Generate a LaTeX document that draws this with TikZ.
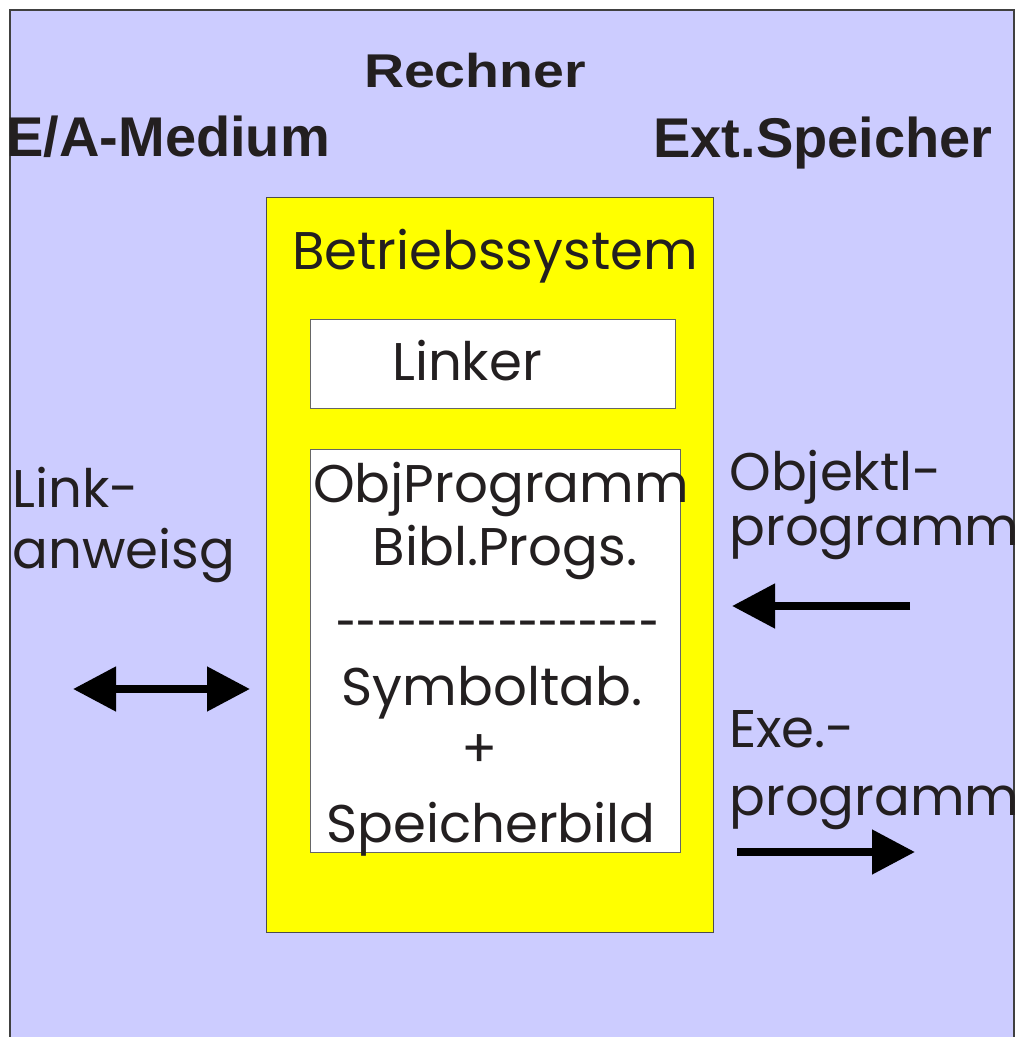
\documentclass[tikz,border=0pt]{standalone}
\usepackage{graphicx}
\usepackage{fontspec}
\setmainfont{Poppins}
\newfontfamily\headfont{Liberation Sans}
\newfontfamily\wideheadfont[FakeStretch=1.17]{Liberation Sans}
\usetikzlibrary{positioning,arrows.meta}
\definecolor{lavender}{HTML}{CCCCFF}
\definecolor{osyellow}{RGB}{255,255,0}
\definecolor{ink}{HTML}{231F20}
\newcommand\hy{\mbox{-}}
\newcommand\dashrow{\scalebox{0.69}[1]{\hy\hy\hy\hy\hy\hy\hy\hy\hy\hy\hy\hy\hy\hy\hy\hy}}

\begin{document}
\begin{tikzpicture}[x=0.5pt, y=-0.5pt, >={Triangle[length=21.5pt,width=21.5pt]},
    every node/.style={inner sep=0pt, text=ink},
    head/.style={font=\headfont\bfseries\fontsize{28}{28}\selectfont},
    body/.style={font=\fontsize{26.5}{27}\selectfont},
    panel/.style={draw=black!70, line width=0.6pt, anchor=north west},
    flow/.style={line width=4pt}]
    \useasboundingbox (0,0) rectangle (1018,1037);
    % background
    \fill[lavender] (10,10) rectangle (1014,1045);
    \draw[black!75, line width=1pt] (10,1045) -- (10,10) -- (1014,10) -- (1014,1045);
    % headings
    \node[font=\wideheadfont\bfseries\fontsize{23.7}{24}\selectfont, anchor=base] (rech) at (475,88) {Rechner};
    \node[head, anchor=base west] (ea) at (6,157) {E/A-Medium};
    \node[head, anchor=base east] (ext) at (993,158) {Ext.Speicher};
    % operating system
    \node[panel, fill=osyellow, minimum width=223.5pt, minimum height=367.5pt] (os) at (266,197) {};
    \node[body, anchor=base] (bs) at (495,270) {Betriebssystem};
    \node[panel, fill=white, draw=black!60, minimum width=182.5pt, minimum height=44.5pt] (lbox) at (310,319) {};
    \node[body, anchor=base] (lnk) at (467,380) {Linker};
    \node[panel, fill=white, draw=black!60, minimum width=185pt, minimum height=201.5pt] (mem) at (310,449) {};
    \node[body, anchor=base] (obj) at (501,502) {ObjProgramm};
    \node[body, anchor=base] (bib) at (505,565) {Bibl.Progs.};
    \node[body, anchor=base] (sep) at (498,642) {\dashrow};
    \node[body, anchor=base] (sym) at (492,705) {Symboltab.};
    \node[body, anchor=base] (plus) at (480,767) {+};
    \node[body, anchor=base] (img) at (491,842) {Speicherbild};
    % side labels
    \node[body, anchor=base west] (la1) at (12,507) {Link-};
    \node[body, anchor=base west] (la2) at (12,568) {anweisg};
    \node[body, anchor=base west] (ob1) at (729,490) {Objektl-};
    \node[body, anchor=base west] (ob2) at (729,545) {programm};
    \node[body, anchor=base west] (ex1) at (729,747) {Exe.-};
    \node[body, anchor=base west] (ex2) at (729,815) {programm};
    % arrows
    \coordinate (ioL) at (73,689);
    \coordinate (ioR) at (250,689);
    \coordinate (inT) at (910,606);
    \coordinate (inH) at (732,606);
    \coordinate (outT) at (737,852);
    \coordinate (outH) at (915,852);
    \draw[<->, flow] (ioL) -- (ioR);
    \draw[->, flow] (inT) -- (inH);
    \draw[->, flow] (outT) -- (outH);
\end{tikzpicture}
\end{document}
